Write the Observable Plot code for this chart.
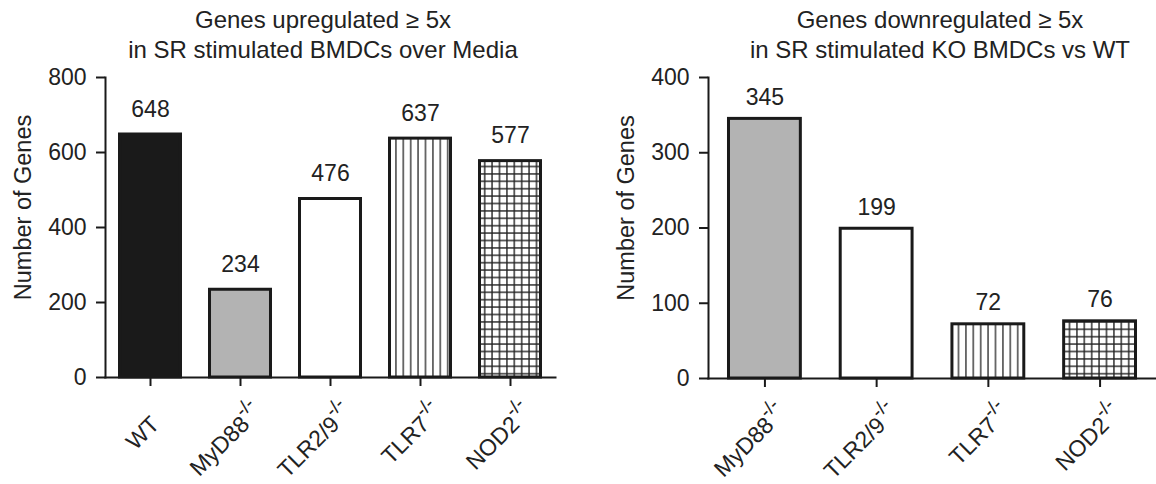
<!DOCTYPE html>
<html><head><meta charset="utf-8">
<script src="https://cdn.jsdelivr.net/npm/d3@7"></script>
<script src="https://cdn.jsdelivr.net/npm/@observablehq/plot@0.6"></script>
<style>
body{margin:0;background:#fff;}
#wrap{position:relative;width:1156px;height:484px;font-family:"Liberation Sans",Arial,sans-serif;color:#222;overflow:hidden;}
.panel{position:absolute;top:0;height:484px;}
.title{position:absolute;top:5px;transform:translateX(-50%);white-space:nowrap;text-align:center;font-size:24px;line-height:30px;color:#222;}
</style></head><body>
<div id="wrap">
 <div class="panel" id="left" style="left:0;width:570px"></div>
 <div class="panel" id="right" style="left:570px;width:586px"></div>
 <div class="title" id="t1" style="left:323px"></div>
 <div class="title" id="t2" style="left:940px"></div>
</div>
<script>
const leftTitle = ["Genes upregulated \u2265 5x", "in SR stimulated BMDCs over Media"];
const rightTitle = ["Genes downregulated \u2265 5x", "in SR stimulated KO BMDCs vs WT"];
const leftGroups = ["WT", "MyD88", "TLR2/9", "TLR7", "NOD2"];
const leftKnockout = ["", "-/-", "-/-", "-/-", "-/-"];
const leftCounts = [648, 234, 476, 637, 577];
const leftTicks = [0, 200, 400, 600, 800];
const rightGroups = ["MyD88", "TLR2/9", "TLR7", "NOD2"];
const rightKnockout = ["-/-", "-/-", "-/-", "-/-"];
const rightCounts = [345, 199, 72, 76];
const rightTicks = [0, 100, 200, 300, 400];
const yLabel = "Number of Genes";

const fillStyle = {WT: "#1a1a1a", MyD88: "#b3b3b3", "TLR2/9": "#ffffff", TLR7: "vstripe", NOD2: "grid"};
const FONT = "'Liberation Sans', Arial, sans-serif";

document.getElementById("t1").innerHTML = leftTitle.join("<br>");
document.getElementById("t2").innerHTML = rightTitle.join("<br>");

function drawPanel({id, groups, knockout, counts, ticks, width, marginLeft, marginRight, marginBottom, padIn, padOut, labelDy}) {
  const data = groups.map((g, i) => ({group: g, ko: knockout[i], count: counts[i]}));
  const fillOf = d => {
    const f = fillStyle[d.group];
    return f.startsWith("#") ? f : `url(#${id}-${f})`;
  };
  const plot = Plot.plot({
    width, height: 484, marginTop: 77, marginBottom, marginLeft, marginRight,
    style: {fontFamily: FONT, fontSize: "23px", color: "#222", background: "transparent", overflow: "visible"},
    x: {domain: groups, paddingInner: padIn, paddingOuter: padOut, round: false},
    y: {domain: [0, ticks[ticks.length - 1]]},
    color: {type: "identity"},
    marks: [
      Plot.barY(data, {x: "group", y: "count", fill: fillOf, stroke: "#1a1a1a", strokeWidth: 3, insetLeft: 1.5, insetRight: 1.5}),
      Plot.text(data, {x: "group", y: "count", text: d => String(d.count), lineAnchor: "bottom", dy: labelDy, fontSize: 23, fill: "#222"}),
      Plot.frame({anchor: "left", stroke: "#1a1a1a", strokeWidth: 2}),
      Plot.frame({anchor: "bottom", stroke: "#1a1a1a", strokeWidth: 2}),
      Plot.axisY({ticks, tickSize: 9, tickPadding: 10, stroke: "#1a1a1a", strokeWidth: 2, fill: "#222", fontSize: 23, label: null}),
      Plot.text([yLabel], {frameAnchor: "left", text: d => d, rotate: -90, textAnchor: "middle", dx: -82, dy: -20, fontSize: 23.5, fill: "#222"}),
      Plot.axisX({tickSize: 9, stroke: "#1a1a1a", strokeWidth: 2, fill: "none", label: null}),
      Plot.axisX({tickSize: 0, tickPadding: 43, tickRotate: -45, dx: 5, fill: "#222", fontSize: 23, label: null})
    ]
  });
  const svg = d3.select(plot);
  const defs = svg.insert("defs", ":first-child");
  const s = 7.4;
  const vs = defs.append("pattern").attr("id", id + "-vstripe").attr("patternUnits", "userSpaceOnUse").attr("width", s).attr("height", 20);
  vs.append("rect").attr("width", s).attr("height", 20).attr("fill", "#fff");
  vs.append("line").attr("x1", s / 2).attr("x2", s / 2).attr("y1", 0).attr("y2", 20).attr("stroke", "#333").attr("stroke-width", 1.4);
  const gr = defs.append("pattern").attr("id", id + "-grid").attr("patternUnits", "userSpaceOnUse").attr("width", s).attr("height", s);
  gr.append("rect").attr("width", s).attr("height", s).attr("fill", "#fff");
  gr.append("line").attr("x1", s / 2).attr("x2", s / 2).attr("y1", 0).attr("y2", s).attr("stroke", "#222").attr("stroke-width", 1.4);
  gr.append("line").attr("y1", s / 2).attr("y2", s / 2).attr("x1", 0).attr("x2", s).attr("stroke", "#222").attr("stroke-width", 1.4);
  svg.selectAll('g[aria-label="x-axis tick label"] text').each(function() {
    const i = groups.indexOf(this.textContent);
    if (i >= 0 && knockout[i]) {
      d3.select(this).append("tspan").attr("x", 0).attr("dy", "-0.6em").attr("text-anchor", "start")
        .attr("font-size", "0.82em").text(knockout[i]);
    }
  });
  document.getElementById(id).appendChild(plot);
}

drawPanel({id: "left", groups: leftGroups, knockout: leftKnockout, counts: leftCounts, ticks: leftTicks,
  width: 570, marginLeft: 105, marginRight: 15, marginBottom: 107, padIn: 0.289, padOut: 0.1445, labelDy: -18});
drawPanel({id: "right", groups: rightGroups, knockout: rightKnockout, counts: rightCounts, ticks: rightTicks,
  width: 586, marginLeft: 138, marginRight: 0, marginBottom: 106, padIn: 0.33, padOut: 0.17, labelDy: -14});
</script>
</body></html>
